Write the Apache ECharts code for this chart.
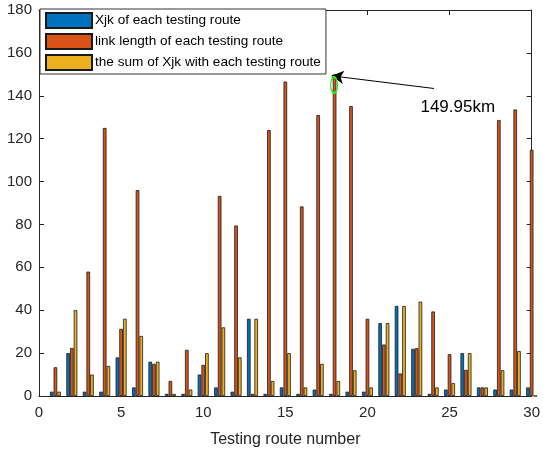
<!DOCTYPE html>
<html>
<head>
<meta charset="utf-8">
<script src="https://cdn.jsdelivr.net/npm/echarts@6/dist/echarts.min.js"></script>
<style>html,body{margin:0;padding:0;background:#fff;overflow:hidden;}#c{width:543px;height:453px;}</style>
</head>
<body>
<div id="c"></div>
<script>
const routes = [1,2,3,4,5,6,7,8,9,10,11,12,13,14,15,16,17,18,19,20,21,22,23,24,25,26,27,28,29,30];
const xjk    = [2,20,2,2,18,4,16,1,1,10,4,2,36,1,4,1,3,1,2,2,34,42,22,1,3,20,4,3,3,4];
const linkLen= [13.4,22.4,58,125,31.3,96,15,7,21.5,14.5,93.3,79.5,1,124,146.6,88.4,131,149.95,135.2,36,24,10.5,22.3,39.4,19.5,12.2,4,128.7,133.6,114.8];
const sumXjk = [2,40,10,14,36,28,16,1,3,20,32,18,36,7,20,4,15,7,12,4,34,42,44,4,6,20,4,12,21,0];
const yTicks = [0,20,40,60,80,100,120,140,160,180];
const xTicks = [0,5,10,15,20,25,30];
const seriesNames = ['Xjk of each testing route','link length of each testing route','the sum of Xjk with each testing route'];
const colors = ['#0072BD','#D95319','#EDB120'];
const peakLabel = '149.95km';

const FONT = 'Liberation Sans, Arial, sans-serif';
const chart = echarts.init(document.getElementById('c'), null, {renderer:'canvas', width:543, height:453});
const mk = arr => routes.map((r,i)=>[r, arr[i]]);
const barBase = (name, data, color) => ({
  name, type:'bar', data, barWidth:3.6, barGap:'3%',
  itemStyle:{color, borderColor:'#1a1a1a', borderWidth:0.8},
  emphasis:{disabled:true}, animation:false
});
const s1 = barBase(seriesNames[0], mk(xjk), colors[0]);
const s2 = barBase(seriesNames[1], mk(linkLen), colors[1]);
const s3 = barBase(seriesNames[2], mk(sumXjk), colors[2]);
s2.markLine = {
  silent:true, animation:false, symbol:['none','arrow'], symbolSize:[10,12],
  lineStyle:{color:'#000', width:1, type:'solid'}, label:{show:false},
  data:[[{coord:[24.05,143.4]},{coord:[17.82,149.3]}]]
};
s2.markPoint = {
  silent:true, animation:false,
  data:[
    {coord:[17.97,145], symbol:'circle', symbolSize:[7,16],
     itemStyle:{color:'rgba(0,0,0,0)', borderColor:'#22ee22', borderWidth:1.6}, label:{show:false}},
    {coord:[25.5,134.5], symbol:'rect', symbolSize:1, itemStyle:{color:'rgba(0,0,0,0)'},
     label:{show:true, position:'inside', formatter:peakLabel, color:'#000', fontSize:17, fontFamily:FONT}}
  ]
};
const axisCol = '#262626';
chart.setOption({
  backgroundColor:'#fff',
  animation:false,
  grid:{left:39, right:7, top:10, bottom:50, containLabel:false},
  legend:{
    orient:'vertical', left:40, top:9, itemWidth:46, itemHeight:15, itemGap:4,
    padding:[3,5,3,5], borderColor:'#333', borderWidth:1, backgroundColor:'#fff',
    textStyle:{fontSize:13.6, fontFamily:FONT, color:'#000', padding:[0,0,0,-2]},
    icon:'rect', data:seriesNames
  },
  xAxis:[
    {type:'value', min:0, max:30, interval:5, position:'bottom',
     name:'Testing route number', nameLocation:'middle', nameGap:36,
     nameTextStyle:{fontSize:16, fontFamily:FONT, color:axisCol},
     axisLine:{show:true, lineStyle:{color:axisCol, width:1}},
     axisTick:{show:true, inside:true, length:5, lineStyle:{color:axisCol}},
     axisLabel:{fontSize:15, fontFamily:FONT, color:axisCol, margin:9,
       formatter:v=>xTicks.includes(v)?String(v):''},
     splitLine:{show:false}},
    {type:'value', min:0, max:30, interval:5, position:'top',
     axisLine:{show:true, onZero:false, lineStyle:{color:axisCol, width:1}},
     axisTick:{show:true, inside:true, length:5, lineStyle:{color:axisCol}},
     axisLabel:{show:false}, splitLine:{show:false}}
  ],
  yAxis:[
    {type:'value', min:0, max:180, interval:20, position:'left',
     axisLine:{show:true, lineStyle:{color:axisCol, width:1}},
     axisTick:{show:true, inside:true, length:5, lineStyle:{color:axisCol}},
     axisLabel:{fontSize:15, fontFamily:FONT, color:axisCol, margin:7,
       formatter:v=>yTicks.includes(v)?String(v):''},
     splitLine:{show:false}},
    {type:'value', min:0, max:180, interval:20, position:'right',
     axisLine:{show:true, onZero:false, lineStyle:{color:axisCol, width:1}},
     axisTick:{show:true, inside:true, length:5, lineStyle:{color:axisCol}},
     axisLabel:{show:false}, splitLine:{show:false}}
  ],
  series:[s1,s2,s3]
});
</script>
</body>
</html>
